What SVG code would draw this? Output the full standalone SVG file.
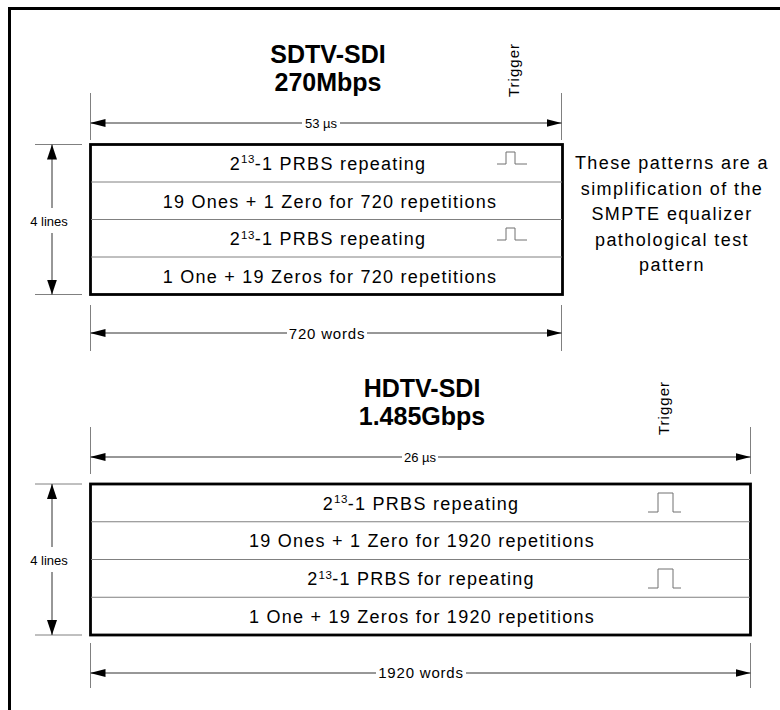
<svg xmlns="http://www.w3.org/2000/svg" width="780" height="710" viewBox="0 0 780 710">
<style>
.frame{fill:none;stroke:#000;stroke-width:3}
.box{fill:#fff;stroke:#000;stroke-width:2.8}
.div{stroke:#808080;stroke-width:1}
.tick{stroke:#808080;stroke-width:1}
.dim{stroke:#303030;stroke-width:1;fill:none}
.pulse{fill:none;stroke:#707070;stroke-width:1}
.title{font-family:"Liberation Sans",Arial,sans-serif;font-weight:bold;font-size:25px;fill:#000;text-anchor:middle}
.row{font-family:"Liberation Sans",Arial,sans-serif;font-size:18px;letter-spacing:1.25px;fill:#000;text-anchor:middle}
.sup{font-size:11.5px;letter-spacing:0.5px}
.note{font-family:"Liberation Sans",Arial,sans-serif;font-size:18px;letter-spacing:1.4px;fill:#000;text-anchor:middle}
.lbl{font-family:"Liberation Sans",Arial,sans-serif;font-size:15px;letter-spacing:0.8px;fill:#000;text-anchor:middle}
.small{font-family:"Liberation Sans",Arial,sans-serif;font-size:13px;fill:#000;text-anchor:middle}
.trig{font-family:"Liberation Sans",Arial,sans-serif;font-size:15px;letter-spacing:1px;fill:#000;text-anchor:middle}
</style>
<defs>
<marker id="arrH" viewBox="0 0 15 8" refX="15" refY="4" markerWidth="15" markerHeight="8" markerUnits="userSpaceOnUse" orient="auto-start-reverse"><path d="M0,0 L15,4 L0,8 z" fill="#000"/></marker>
<marker id="arrV" viewBox="0 0 15 10" refX="15" refY="5" markerWidth="15" markerHeight="10" markerUnits="userSpaceOnUse" orient="auto-start-reverse"><path d="M0,0 L15,5 L0,10 z" fill="#000"/></marker>
</defs>
<rect width="780" height="710" fill="#fff"/>
<path class="frame" d="M9.5,710 V8.5 H780"/>

<g id="sdtv-title">
<text class="title" x="328" y="63">SDTV-SDI</text>
<text class="title" x="328" y="91">270Mbps</text>
<text class="trig" transform="translate(519,70) rotate(-90)">Trigger</text>
</g>

<g id="sdtv-box">
<rect class="box" x="90.5" y="144.5" width="472" height="150"/>
<line class="div" x1="91" y1="182" x2="562" y2="182"/>
<line class="div" x1="91" y1="219.5" x2="562" y2="219.5"/>
<line class="div" x1="91" y1="257" x2="562" y2="257"/>
<text class="row" x="328" y="169.5">2<tspan class="sup" dy="-6.5">13</tspan><tspan dy="6.5">-1 PRBS repeating</tspan></text>
<text class="row" x="330" y="207.5">19 Ones + 1 Zero for 720 repetitions</text>
<text class="row" x="328" y="245">2<tspan class="sup" dy="-6.5">13</tspan><tspan dy="6.5">-1 PRBS repeating</tspan></text>
<text class="row" x="330" y="283">1 One + 19 Zeros for 720 repetitions</text>
<path class="pulse" d="M497,164 H506 V152 H515 V164 H527"/>
<path class="pulse" d="M497,240 H506 V228 H515 V240 H527"/>
</g>

<g id="note">
<text class="note" x="672" y="169">These patterns are a</text>
<text class="note" x="672" y="194.5">simplification of the</text>
<text class="note" x="672" y="220">SMPTE equalizer</text>
<text class="note" x="672" y="245.5">pathological test</text>
<text class="note" x="672" y="271">pattern</text>
</g>

<g id="hdtv-title">
<text class="title" x="422" y="397">HDTV-SDI</text>
<text class="title" x="422" y="425">1.485Gbps</text>
<text class="trig" transform="translate(669,408) rotate(-90)">Trigger</text>
</g>

<g id="hdtv-box">
<rect class="box" x="90.5" y="484" width="660" height="151"/>
<line class="div" x1="91" y1="521.75" x2="750" y2="521.75"/>
<line class="div" x1="91" y1="559.5" x2="750" y2="559.5"/>
<line class="div" x1="91" y1="597.25" x2="750" y2="597.25"/>
<text class="row" x="421" y="509.5">2<tspan class="sup" dy="-6.5">13</tspan><tspan dy="6.5">-1 PRBS repeating</tspan></text>
<text class="row" x="422" y="547">19 Ones + 1 Zero for 1920 repetitions</text>
<text class="row" x="421" y="585">2<tspan class="sup" dy="-6.5">13</tspan><tspan dy="6.5">-1 PRBS for repeating</tspan></text>
<text class="row" x="422" y="622.5">1 One + 19 Zeros for 1920 repetitions</text>
<path class="pulse" d="M648,512 H658 V493 H673 V512 H681"/>
<path class="pulse" d="M648,588 H658 V569 H673 V588 H681"/>
</g>

<g id="dim-labels">
<text class="small" x="321" y="127.5">53 µs</text>
<text class="lbl" x="327" y="338.5">720 words</text>
<text class="small" x="420" y="461.5">26 µs</text>
<text class="lbl" x="421" y="678">1920 words</text>
<text class="small" x="49" y="226">4 lines</text>
<text class="small" x="49" y="565">4 lines</text>
</g>

<g id="connectors">
<line class="tick" x1="90.5" y1="93" x2="90.5" y2="140"/>
<line class="tick" x1="561.5" y1="93" x2="561.5" y2="140"/>
<line class="dim" x1="90.5" y1="123" x2="302" y2="123" marker-start="url(#arrH)"/>
<line class="dim" x1="340" y1="123" x2="561.5" y2="123" marker-end="url(#arrH)"/>

<line class="tick" x1="90.5" y1="305" x2="90.5" y2="351"/>
<line class="tick" x1="561.5" y1="305" x2="561.5" y2="351"/>
<line class="dim" x1="90.5" y1="333" x2="287" y2="333" marker-start="url(#arrH)"/>
<line class="dim" x1="367" y1="333" x2="561.5" y2="333" marker-end="url(#arrH)"/>

<line class="tick" x1="90.5" y1="427" x2="90.5" y2="474"/>
<line class="tick" x1="750.5" y1="427" x2="750.5" y2="474"/>
<line class="dim" x1="90.5" y1="457" x2="402" y2="457" marker-start="url(#arrH)"/>
<line class="dim" x1="438" y1="457" x2="750.5" y2="457" marker-end="url(#arrH)"/>

<line class="tick" x1="90.5" y1="643" x2="90.5" y2="688"/>
<line class="tick" x1="750.5" y1="643" x2="750.5" y2="688"/>
<line class="dim" x1="90.5" y1="673" x2="376" y2="673" marker-start="url(#arrH)"/>
<line class="dim" x1="466" y1="673" x2="750.5" y2="673" marker-end="url(#arrH)"/>

<line class="tick" x1="35" y1="144.5" x2="82" y2="144.5"/>
<line class="tick" x1="35" y1="294.5" x2="82" y2="294.5"/>
<line class="dim" x1="52" y1="144.5" x2="52" y2="208" marker-start="url(#arrV)"/>
<line class="dim" x1="52" y1="233" x2="52" y2="294.5" marker-end="url(#arrV)"/>

<line class="tick" x1="35" y1="484" x2="82" y2="484"/>
<line class="tick" x1="35" y1="635" x2="82" y2="635"/>
<line class="dim" x1="52" y1="484" x2="52" y2="547" marker-start="url(#arrV)"/>
<line class="dim" x1="52" y1="572" x2="52" y2="635" marker-end="url(#arrV)"/>
</g>
</svg>
